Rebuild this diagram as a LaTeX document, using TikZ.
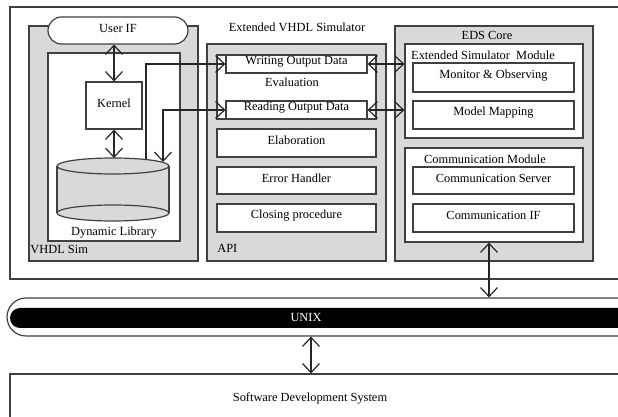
\documentclass[tikz,border=0pt]{standalone}
\usepackage{fontspec}
\setmainfont{Liberation Serif}
\usetikzlibrary{arrows.meta,fit,positioning}
\definecolor{simgray}{RGB}{217,217,217}

\begin{document}
\begin{tikzpicture}[x=0.5pt,y=-0.5pt,
    font=\fontsize{6.2}{7}\selectfont,
    blk/.style={draw=black!75,line width=0.6pt,fill=white,inner sep=0pt},
    grp/.style={blk,fill=simgray},
    lbl/.style={inner sep=0pt},
    txt/.style={label={[lbl,yshift=1.2pt]center:#1}},
    barb/.tip={Straight Barb[length=4.5pt,width=8.5pt]},
    link/.style={line width=0.6pt,draw=black!85,barb-barb},
    feed/.style={line width=0.6pt,draw=black!85,-barb}]
  \path[use as bounding box,clip] (0,0) rectangle (618,417);

  % simulator frame
  \node[blk,fit={(10,7)(640,279)}] (sim) {};
  \node[lbl] (simtitle) at (297,27) {Extended VHDL Simulator};

  % VHDL Sim
  \node[grp,fit={(29,26)(198,261)}] (vhdl) {};
  \node[lbl,anchor=west] (vhdllbl) at (30,249) {VHDL Sim};
  \node[blk,fit={(48,53)(180,241)}] (dynlib) {};
  \node[lbl] (dynlbl) at (114,233) {Dynamic Library};
  \node[blk,rounded corners=6.75pt,fit={(48,17)(188,44)},txt={User IF}] (userif) {};
  \node[blk,fit={(86,82)(142,129)},txt=Kernel] (kernel) {};
  \fill[simgray] (57,166) rectangle (169,213);
  \draw[black!75,line width=0.6pt,fill=simgray] (113,213) ellipse [x radius=56,y radius=8];
  \draw[black!75,line width=0.6pt,fill=simgray] (113,166) ellipse [x radius=56,y radius=8];
  \draw[black!75,line width=0.6pt] (57,166) -- (57,213) (169,166) -- (169,213);
  \coordinate (libtop) at (114,158);
  \coordinate (wsrc) at (146,159.5);
  \coordinate (rsrc) at (163,162);

  % API
  \node[grp,fit={(207,44)(386,261)}] (api) {};
  \node[lbl,anchor=west] (apilbl) at (217,248) {API};
  \node[blk,fit={(217,55)(376,119)}] (eval) {};
  \node[lbl] (evallbl) at (292,82) {Evaluation};
  \node[blk,fit={(226,55)(367,73)},txt={Writing Output Data}] (writing) {};
  \node[blk,fit={(226,101)(367,119)},txt={Reading Output Data}] (reading) {};
  \node[blk,fit={(217,129)(376,157)},txt=Elaboration] (elab) {};
  \node[blk,fit={(217,167)(376,194)},txt={Error Handler}] (errh) {};
  \node[blk,fit={(217,204)(376,232)},txt={Closing procedure}] (closing) {};

  % EDS Core
  \node[grp,fit={(395,26)(593,261)}] (eds) {};
  \node[lbl] (edslbl) at (487,35) {EDS Core};
  \node[blk,fit={(405,44)(583,138)}] (esm) {};
  \node[lbl] (esmlbl) at (483,55) {Extended Simulator\ \ Module};
  \node[blk,fit={(413,63)(574,92)},txt={Monitor \& Observing}] (monitor) {};
  \node[blk,fit={(413,101)(574,129)},txt={Model Mapping}] (mapping) {};
  \node[blk,fit={(405,148)(583,242)}] (comm) {};
  \node[lbl] (commlbl) at (485,159) {Communication Module};
  \node[blk,fit={(413,167)(574,194)},txt={Communication Server}] (server) {};
  \node[blk,fit={(413,204)(574,232)},txt={Communication IF}] (commif) {};

  % UNIX and host
  \node[blk,rounded corners=9.5pt,fit={(7,298)(640,336)}] (unix) {};
  \node[fill=black,rounded corners=5pt,inner sep=0pt,fit={(10,308)(640,328)}] (unixbar) {};
  \node[lbl,text=white] (unixlbl) at (306,318) {UNIX};
  \node[blk,fit={(10,374)(640,460)}] (sds) {};
  \node[lbl] (sdslbl) at (310,398) {Software Development System};

  % connectors
  \coordinate (cx) at (489,0);
  \coordinate (ux) at (311,0);
  \draw[link] (kernel.north) -- (kernel.north |- userif.south);
  \draw[link] (kernel.south) -- (libtop);
  \draw[feed] (wsrc) |- (writing.west);
  \draw[link] (rsrc) |- (reading.west);
  \draw[link] (writing.east) -- (writing.east -| esm.west);
  \draw[link] (reading.east) -- (reading.east -| esm.west);
  \draw[link] (cx |- comm.south) -- (cx |- unix.north);
  \draw[link] (ux |- unix.south) -- (ux |- sds.north);
\end{tikzpicture}
\end{document}
